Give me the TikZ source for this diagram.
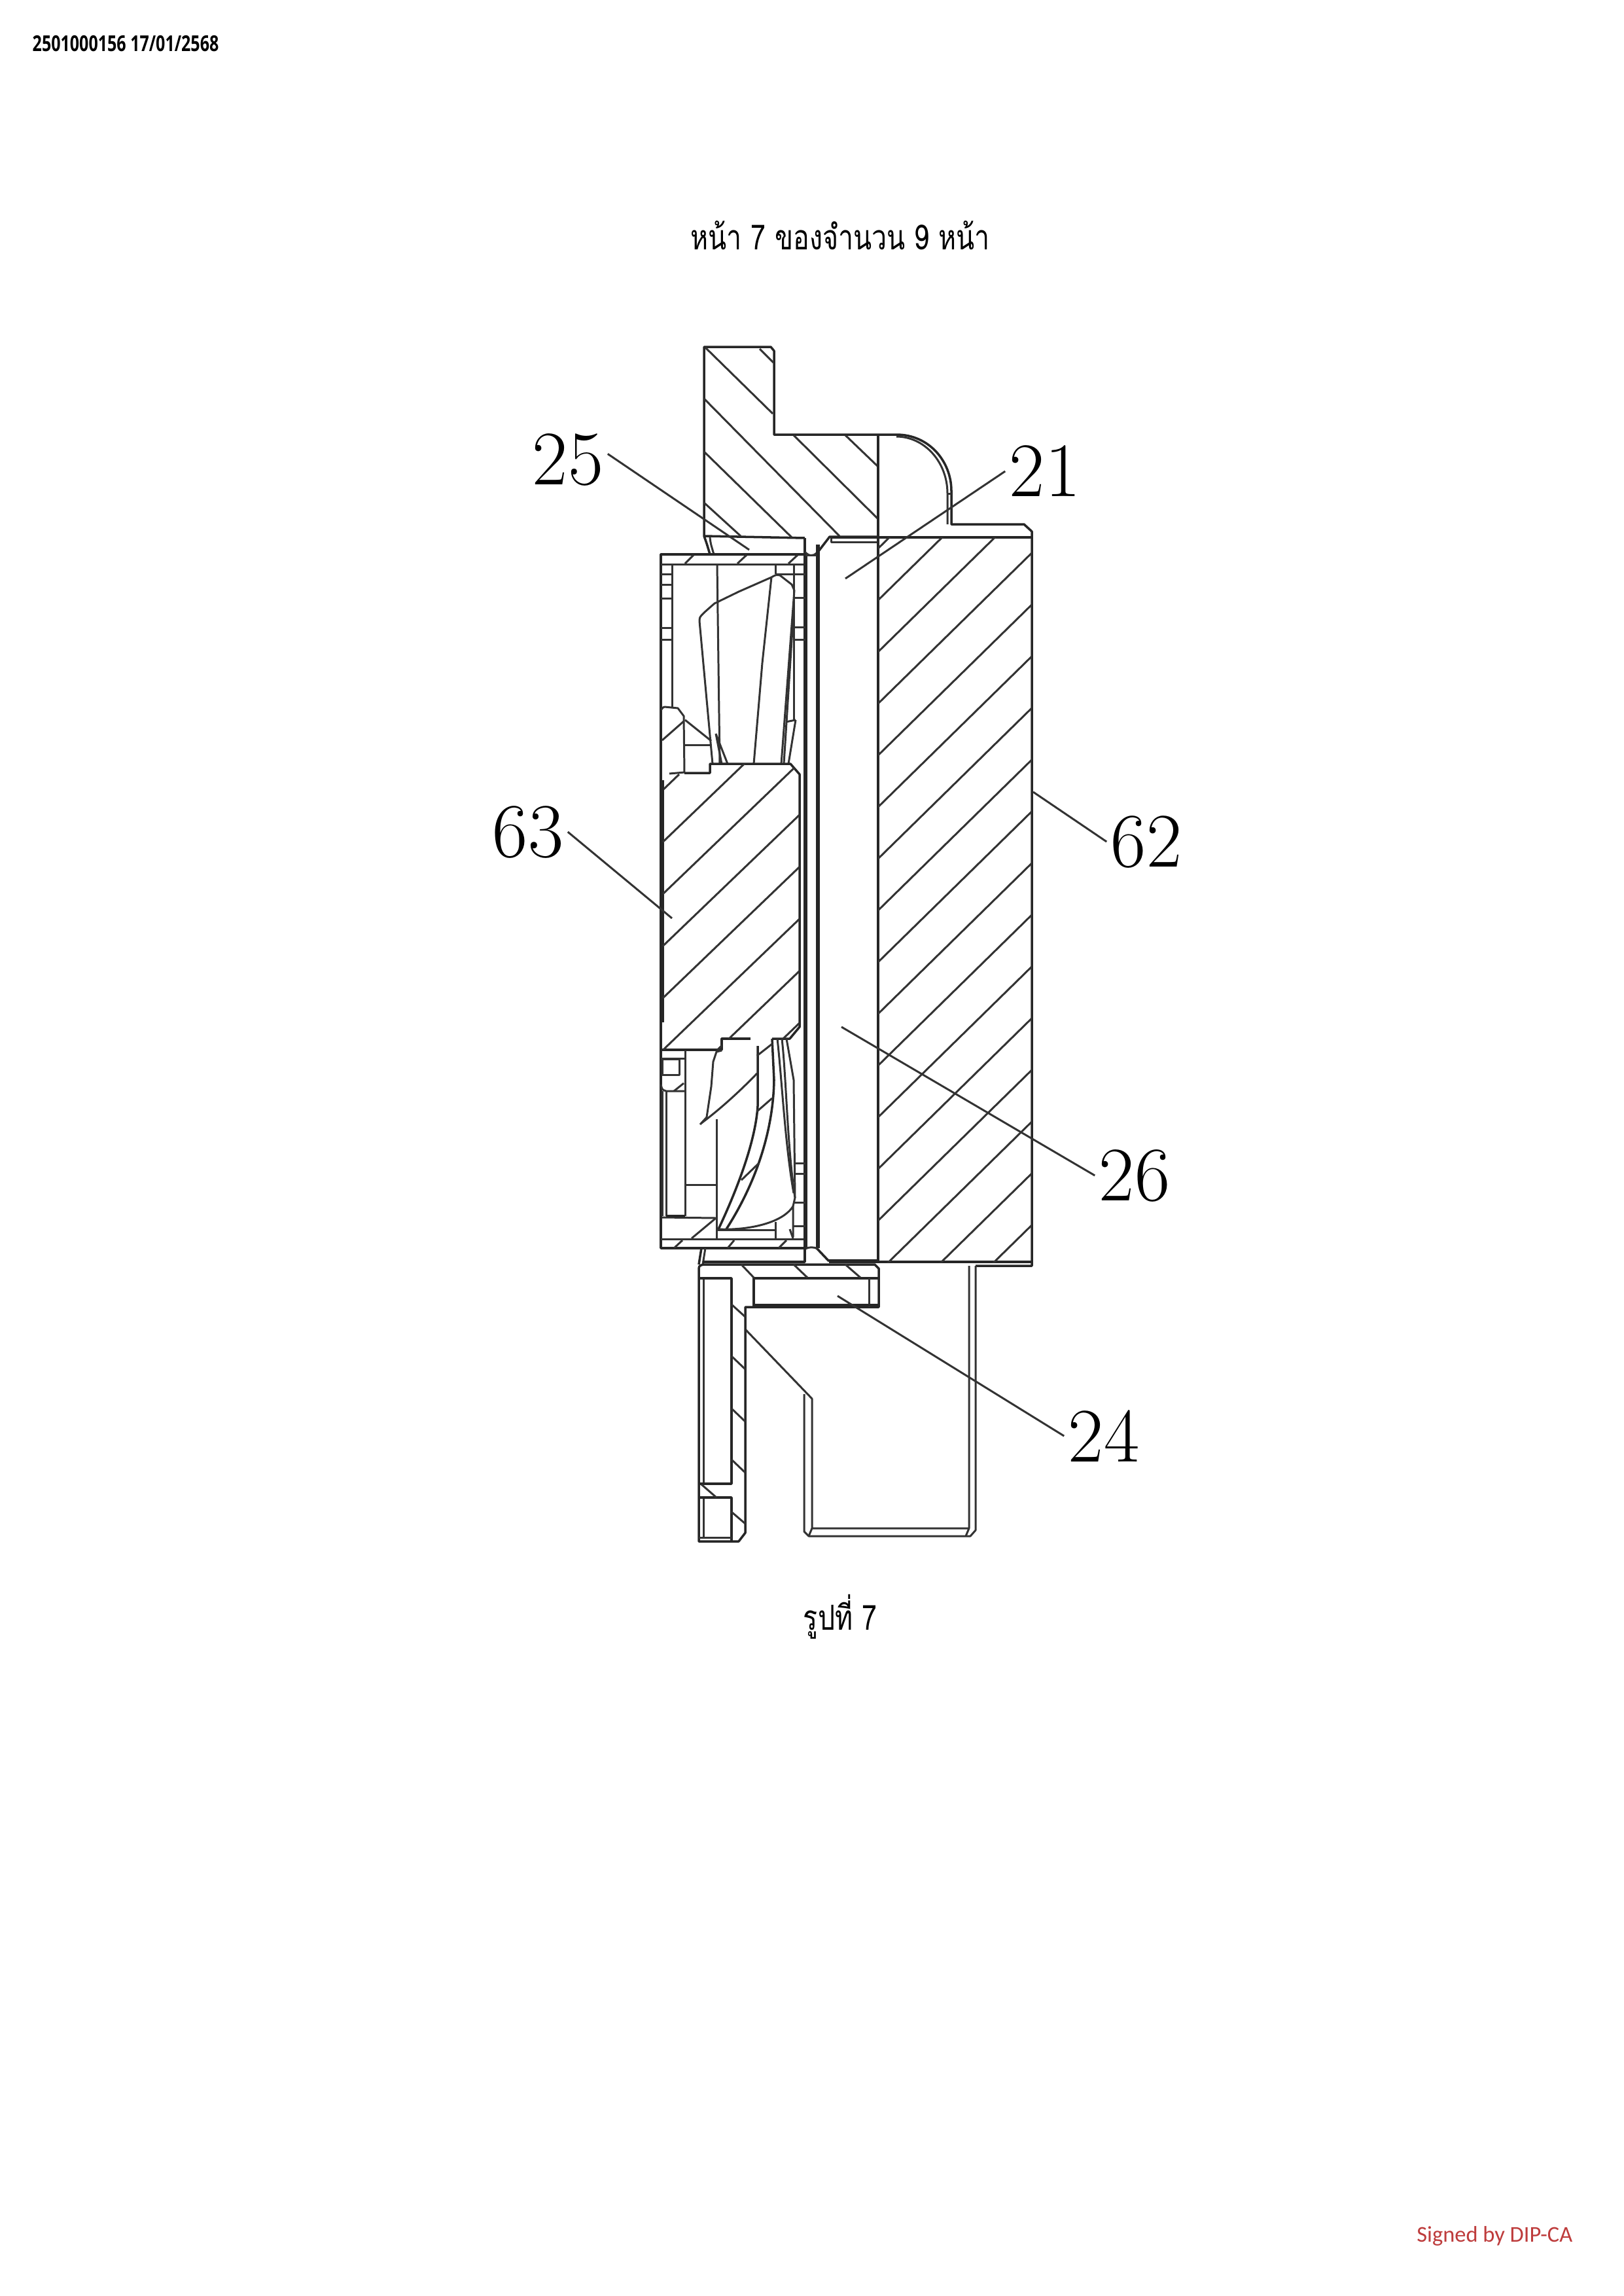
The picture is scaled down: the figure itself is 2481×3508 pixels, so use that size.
\documentclass[tikz,border=0pt]{standalone}
\usepackage{fontspec}
\newfontfamily\thaifont[Script=Thai,FakeStretch=0.78]{Loma}
\newfontfamily\headfont[FakeStretch=0.75]{Open Sans}
\newfontfamily\signfont{Carlito}
\definecolor{signred}{RGB}{190,60,60}

\begin{document}
\begin{tikzpicture}[x=0.01cm,y=-0.01cm,
  part/.style={draw=black!85,line width=1pt,line join=round},
  fine/.style={draw=black!80,line width=0.85pt,line join=round},
  heavy/.style={draw=black!85,line width=1.6pt},
  leader/.style={draw=black!80,line width=0.85pt},
  numlabel/.style={font=\fontsize{33.5}{40}\selectfont,inner sep=0.06cm}]
\useasboundingbox[fill=white] (0,0) rectangle (2481,3508);

\node[font=\headfont\bfseries\fontsize{9.5}{12}\selectfont,anchor=west,inner sep=0] (head) at (49,67) {2501000156 17/01/2568};
\node[font=\thaifont\fontsize{15}{19}\selectfont,inner sep=0] (title) at (1284,360) {หน้า 7 ของจำนวน 9 หน้า};
\node[font=\thaifont\fontsize{15}{19}\selectfont,inner sep=0] (caption) at (1284,2470) {รูปที่ 7};
\node[font=\signfont\fontsize{9.8}{12}\selectfont,text=signred,anchor=east,inner sep=0] (sign) at (2404,3416) {Signed by DIP-CA};

%top housing
\draw[part] (1230,822) -- (1076,819) -- (1076,530) -- (1178,530) -- (1183,536) -- (1183,664)
  -- (1370,664) .. controls (1420,664) and (1454,705) .. (1454,750) -- (1454,801)
  -- (1565,801) -- (1577,812) -- (1577,1934) -- (1491,1934);
\draw[fine] (1370,667) .. controls (1412,667) and (1448,705) .. (1448,754) -- (1448,801);
\draw[fine] (1448,754) -- (1454,754);
\foreach \a/\b/\c/\d in {1078/531/1181/632,1161/533/1182/554,1076/609/1283/819,1076/690/1210/821,
  1076/768/1132/819,1213/665/1341/792,1292/665/1341/712}
  \draw[fine] (\a,\b) -- (\c,\d);
\draw[part] (1076,819) .. controls (1080,830) .. (1085,847);
\draw[fine] (1085,821) .. controls (1086,830) .. (1091,847);
\draw[part] (1230,822) -- (1230,847);
\draw[fine] (1230,843) .. controls (1236,850) and (1243,850) .. (1248,845);
\draw[part] (1248,846) -- (1268,820) -- (1341,820);
\draw[fine] (1270,822) -- (1270,828) -- (1341,828);

%block 62
\draw[part] (1342,664) -- (1342,1928);
\draw[part] (1270,821) -- (1577,821);
\draw[part] (1267,1928) -- (1577,1928);
\begin{scope}
\clip (1342,821) rectangle (1577,1928);
\foreach \k in {0,...,17}
  \draw[fine] (1342,{838+79*\k}) -- ++(400,-392);
\end{scope}

%fan frame
\draw[part] (1010,847) rectangle (1231,1907);
\draw[fine] (1010,862) -- (1231,862);
\draw[fine] (1010,1893) -- (1231,1893);
\draw[heavy] (1231,848) -- (1231,1907);
\draw[heavy] (1250,832) -- (1250,1907);
\draw[fine] (1231,848) -- (1248,848);
\draw[part] (1248,1907) -- (1267,1927);
\draw[heavy] (1267,1927) -- (1342,1927);
\draw[fine] (1231,1908) .. controls (1236,1905) and (1244,1905) .. (1250,1908);
\foreach \a/\b/\c/\d in {1047/861/1060/848,1127/861/1141/848,1205/861/1219/848,
  1030/1907/1043/1895,1112/1907/1122/1895,1190/1907/1202/1895}
  \draw[fine] (\a,\b) -- (\c,\d);

%upper fan
\draw[fine] (1027,862) -- (1027,1080);
\draw[fine] (1096,862) -- (1100,1167);
\draw[fine] (1213,862) -- (1213,1100);
\draw[fine] (1185,862) -- (1185,877);
\foreach \y in {877,893,914,959,977}
  \draw[fine] (1010,\y) -- (1027,\y);
\foreach \y in {877,913,958,977}
  \draw[fine] (1213,\y) -- (1231,\y);
\draw[fine] (1185,877) -- (1213,877);
\draw[fine] (1089,1167) -- (1069,949) .. controls (1069,942) .. (1092,922) -- (1129,904) -- (1179,882)
  .. controls (1186,878) .. (1192,879) -- (1210,893) -- (1214,902) -- (1194,1167);
\draw[fine] (1179,882) -- (1165,1013) -- (1152,1167);
\draw[fine] (1212,946) -- (1198,1167);
\draw[fine] (1216,1100) -- (1205,1167);
\draw[fine] (1201,1103) -- (1216,1100);
\draw[fine] (1094,1121) -- (1103,1167) -- (1112,1167) -- (1094,1121);
\draw[fine] (1010,1085) .. controls (1014,1080) .. (1016,1080) -- (1036,1082) -- (1045,1094) -- (1046,1181);
\draw[fine] (1047,1100) -- (1087,1132);
\draw[fine] (1047,1138) -- (1085,1138);
\draw[fine] (1012,1131) -- (1045,1102);
\draw[fine] (1023,1182) -- (1046,1180);
\draw[fine] (1013,1207) -- (1038,1183);

%hub 63
\draw[part] (1046,1181) -- (1085,1181) -- (1085,1167) -- (1208,1167) -- (1222,1183) -- (1222,1569)
  -- (1207,1587) -- (1180,1587);
\draw[part] (1147,1587) -- (1103,1587) -- (1103,1604) -- (1010,1604);
\draw[heavy] (1012,1192) -- (1012,1562);
\begin{scope}
\clip (1012,1181) -- (1085,1181) -- (1085,1167) -- (1208,1167) -- (1222,1183) -- (1222,1569)
  -- (1207,1587) -- (1103,1587) -- (1103,1604) -- (1012,1604) -- cycle;
\foreach \k in {1,...,7}
  \draw[fine] (1013,{1207+79.5*\k}) -- ++(300,-288);
\end{scope}

%lower fan
\draw[fine] (1010,1617) -- (1047,1617);
\draw[fine] (1012,1618) rectangle (1038,1642);
\draw[fine] (1047,1605) -- (1047,1858);
\draw[fine] (1010,1657) .. controls (1012,1665) .. (1018,1667) -- (1047,1667);
\draw[fine] (1030,1667) -- (1045,1655);
\draw[fine] (1018,1667) -- (1018,1858);
\draw[fine] (1012,1667) -- (1012,1858);
\draw[fine] (1095,1710) -- (1095,1893);
\draw[fine] (1047,1810) -- (1095,1810);
\draw[fine] (1012,1860) -- (1095,1861);
\draw[heavy,line width=1pt] (1018,1858) -- (1047,1858);
\draw[fine] (1057,1892) -- (1093,1862);
\draw[fine] (1103,1605) -- (1095,1607) -- (1090,1622) -- (1087,1660) -- (1080,1707) -- (1070,1718);
\draw[fine] (1072,1716) .. controls (1100,1695) and (1130,1668) .. (1157,1640);
\draw[part] (1158,1598) -- (1158,1690) .. controls (1155,1740) and (1130,1810) .. (1098,1878);
\draw[part] (1180,1587) -- (1183,1650) .. controls (1182,1720) and (1160,1800) .. (1110,1878);
\draw[fine] (1157,1613) -- (1180,1595);
\draw[fine] (1157,1698) -- (1180,1678);
\draw[fine] (1133,1803) -- (1160,1777);
\draw[fine] (1097,1878) .. controls (1140,1880) and (1195,1870) .. (1212,1843) -- (1212,1890);
\draw[fine] (1097,1879) -- (1185,1879);
\draw[fine] (1185,1867) -- (1185,1893);
\draw[fine] (1188,1587) .. controls (1195,1650) and (1200,1750) .. (1213,1823);
\draw[fine] (1195,1587) .. controls (1202,1650) and (1203,1750) .. (1215,1830) -- (1212,1843);
\draw[fine] (1202,1587) -- (1213,1650) -- (1215,1830);
\foreach \y in {1777,1793,1837,1873}
  \draw[fine] (1213,\y) -- (1231,\y);
\draw[fine] (1207,1878) -- (1212,1892);

%lower housing
\draw[part] (1072,1907) -- (1068,1932);
\draw[fine] (1078,1907) -- (1074,1932);
\draw[part] (1074,1928) -- (1230,1928) -- (1230,1907);
\draw[part] (1068,1942) .. controls (1068,1934) .. (1075,1932) -- (1337,1932) -- (1343,1938) -- (1343,1997)
  -- (1139,1997) -- (1139,2342) -- (1129,2355) -- (1068,2355) -- (1068,1942);
\draw[fine] (1075,1953) -- (1075,2267);
\draw[fine] (1075,2288) -- (1075,2348);
\draw[part] (1068,1953) -- (1118,1953) -- (1118,2267) -- (1068,2267);
\draw[part] (1068,2288) -- (1118,2288) -- (1118,2355);
\draw[fine] (1068,2349) -- (1118,2349);
\draw[part] (1152,1997) -- (1152,1953) -- (1343,1953);
\draw[fine] (1328,1953) -- (1328,1997);
\draw[part] (1152,1994) -- (1343,1994);
\foreach \a/\b/\c/\d in {1133/1932/1152/1952,1213/1932/1234/1952,1292/1932/1315/1952,
  1118/1993/1139/2012,1118/2072/1139/2092,1118/2152/1139/2172,1118/2230/1139/2250,
  1118/2310/1139/2328,1072/2268/1095/2288}
  \draw[fine] (\a,\b) -- (\c,\d);

%shaft
\draw[fine] (1140,2032) -- (1241,2137) -- (1241,2335) -- (1481,2335);
\draw[fine] (1229,2130) -- (1229,2340) -- (1236,2347) -- (1483,2347) -- (1491,2338) -- (1491,1934);
\draw[fine] (1481,1934) -- (1481,2335) -- (1476,2347);
\draw[fine] (1241,2335) -- (1236,2347);

%labels
\node[numlabel] (n25) at (868,702) {25};
\node[numlabel] (n21) at (1597,720) {21};
\node[numlabel] (n63) at (807,1271) {63};
\node[numlabel] (n62) at (1752,1286) {62};
\node[numlabel] (n26) at (1734,1796) {26};
\node[numlabel] (n24) at (1687,2194) {24};
\coordinate (p25) at (1145,840);
\coordinate (p21) at (1292,884);
\coordinate (p63) at (1027,1403);
\coordinate (p62) at (1579,1210);
\coordinate (p26) at (1286,1569);
\coordinate (p24) at (1280,1980);
\draw[leader] (n25.8) -- (p25);
\draw[leader] (n21.west) -- (p21);
\draw[leader] (n63.east) -- (p63);
\draw[leader] (n62.west) -- (p62);
\draw[leader] (n26.west) -- (p26);
\draw[leader] (n24.west) -- (p24);
\end{tikzpicture}
\end{document}
